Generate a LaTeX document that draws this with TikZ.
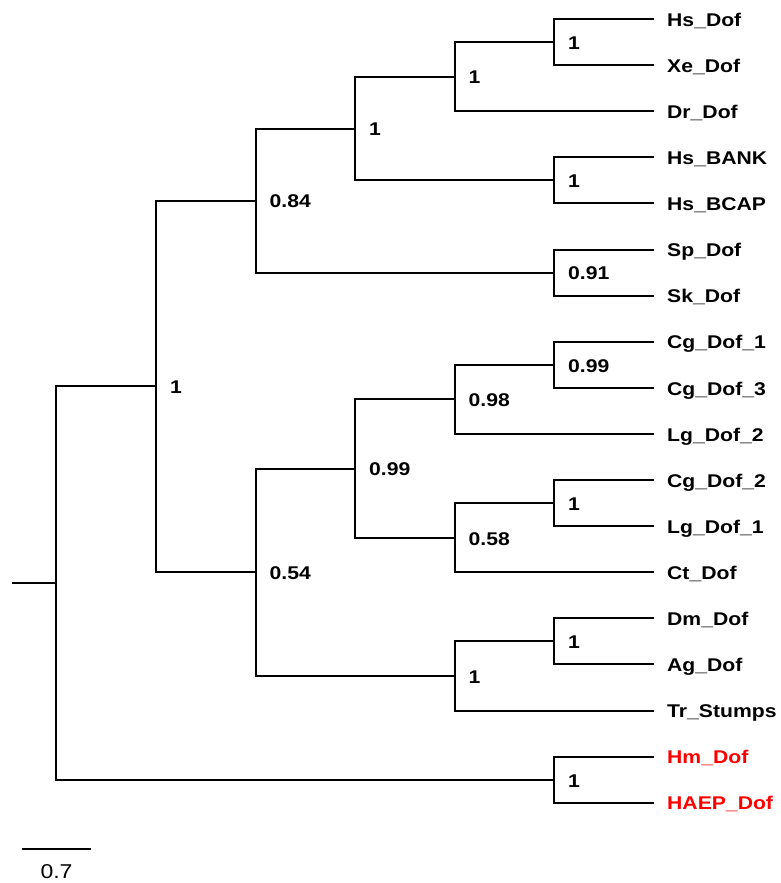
\documentclass[tikz,border=0pt]{standalone}
\usepackage{fontspec}
\newfontfamily\labfont{Liberation Sans}[FakeStretch=1.15]
\definecolor{outred}{RGB}{255,0,0}
\tikzset{
  br/.style={line width=2pt, line cap=rect},
  leaflab/.style={anchor=base west, inner sep=0pt, font=\labfont\bfseries\fontsize{18.4}{20}\selectfont},
  boot/.style={anchor=base west, inner sep=0pt, font=\labfont\bfseries\fontsize{18.4}{20}\selectfont},
  scalelab/.style={anchor=base, inner sep=0pt, font=\labfont\fontsize{20}{22}\selectfont}
}
\begin{document}
\begin{tikzpicture}[x=1pt,y=-1pt]
\useasboundingbox (0,0) rectangle (780,883);
% leaf tips
\foreach \nm/\yy in {L0/19,L1/65.1,L2/111.2,L3/157.3,L4/203.4,L5/249.5,L6/295.6,L7/341.7,L8/387.8,L9/433.9,L10/480,L11/526.1,L12/572.2,L13/618.3,L14/664.4,L15/710.5,L16/756.6,L17/802.7}
  \coordinate (\nm) at (653,\yy);
% internal nodes
\coordinate (n1) at (554,42.05);
\coordinate (n2) at (454.5,76.6);
\coordinate (n3) at (554,180.35);
\coordinate (n4) at (355,128.5);
\coordinate (n5) at (554,272.55);
\coordinate (n6) at (255.5,200.5);
\coordinate (n7) at (554,364.75);
\coordinate (n8) at (454.5,399.3);
\coordinate (n9) at (554,503.05);
\coordinate (n10) at (454.5,537.6);
\coordinate (n11) at (355,468.5);
\coordinate (n12) at (554,641.35);
\coordinate (n13) at (454.5,676);
\coordinate (n14) at (255.5,572.2);
\coordinate (n15) at (156,386.4);
\coordinate (n16) at (554,779.65);
\coordinate (root) at (56,583);
\coordinate (stub) at (13,583);
% branches
\draw[br] (stub) -- (root);
\draw[br] (root) |- (n15);
\draw[br] (root) |- (n16);
\draw[br] (n15) |- (n6);
\draw[br] (n15) |- (n14);
\draw[br] (n6) |- (n4);
\draw[br] (n6) |- (n5);
\draw[br] (n4) |- (n2);
\draw[br] (n4) |- (n3);
\draw[br] (n2) |- (n1);
\draw[br] (n2) |- (L2);
\draw[br] (n1) |- (L0);
\draw[br] (n1) |- (L1);
\draw[br] (n3) |- (L3);
\draw[br] (n3) |- (L4);
\draw[br] (n5) |- (L5);
\draw[br] (n5) |- (L6);
\draw[br] (n14) |- (n11);
\draw[br] (n14) |- (n13);
\draw[br] (n11) |- (n8);
\draw[br] (n11) |- (n10);
\draw[br] (n8) |- (n7);
\draw[br] (n8) |- (L9);
\draw[br] (n7) |- (L7);
\draw[br] (n7) |- (L8);
\draw[br] (n10) |- (n9);
\draw[br] (n10) |- (L12);
\draw[br] (n9) |- (L10);
\draw[br] (n9) |- (L11);
\draw[br] (n13) |- (n12);
\draw[br] (n13) |- (L15);
\draw[br] (n12) |- (L13);
\draw[br] (n12) |- (L14);
\draw[br] (n16) |- (L16);
\draw[br] (n16) |- (L17);
% leaf labels
\node[leaflab] (t0) at ([shift={(14,7.2)}]L0) {Hs\_Dof};
\node[leaflab] (t1) at ([shift={(14,7.2)}]L1) {Xe\_Dof};
\node[leaflab] (t2) at ([shift={(14,7.2)}]L2) {Dr\_Dof};
\node[leaflab] (t3) at ([shift={(14,7.2)}]L3) {Hs\_BANK};
\node[leaflab] (t4) at ([shift={(14,7.2)}]L4) {Hs\_BCAP};
\node[leaflab] (t5) at ([shift={(14,7.2)}]L5) {Sp\_Dof};
\node[leaflab] (t6) at ([shift={(14,7.2)}]L6) {Sk\_Dof};
\node[leaflab] (t7) at ([shift={(14,7.2)}]L7) {Cg\_Dof\_1};
\node[leaflab] (t8) at ([shift={(14,7.2)}]L8) {Cg\_Dof\_3};
\node[leaflab] (t9) at ([shift={(14,7.2)}]L9) {Lg\_Dof\_2};
\node[leaflab] (t10) at ([shift={(14,7.2)}]L10) {Cg\_Dof\_2};
\node[leaflab] (t11) at ([shift={(14,7.2)}]L11) {Lg\_Dof\_1};
\node[leaflab] (t12) at ([shift={(14,7.2)}]L12) {Ct\_Dof};
\node[leaflab] (t13) at ([shift={(14,7.2)}]L13) {Dm\_Dof};
\node[leaflab] (t14) at ([shift={(14,7.2)}]L14) {Ag\_Dof};
\node[leaflab] (t15) at ([shift={(14,7.2)}]L15) {Tr\_Stumps};
\node[leaflab,text=outred] (t16) at ([shift={(14,7.2)}]L16) {Hm\_Dof};
\node[leaflab,text=outred] (t17) at ([shift={(14,7.2)}]L17) {HAEP\_Dof};
% support values
\node[boot] (b1) at ([shift={(14,7.4)}]n1) {1};
\node[boot] (b2) at ([shift={(14,7.4)}]n2) {1};
\node[boot] (b3) at ([shift={(14,7.4)}]n3) {1};
\node[boot] (b4) at ([shift={(14,7.4)}]n4) {1};
\node[boot] (b5) at ([shift={(14,7.4)}]n5) {0.91};
\node[boot] (b6) at ([shift={(14,7.4)}]n6) {0.84};
\node[boot] (b7) at ([shift={(14,7.4)}]n7) {0.99};
\node[boot] (b8) at ([shift={(14,7.4)}]n8) {0.98};
\node[boot] (b9) at ([shift={(14,7.4)}]n9) {1};
\node[boot] (b10) at ([shift={(14,7.4)}]n10) {0.58};
\node[boot] (b11) at ([shift={(14,7.4)}]n11) {0.99};
\node[boot] (b12) at ([shift={(14,7.4)}]n12) {1};
\node[boot] (b13) at ([shift={(14,7.4)}]n13) {1};
\node[boot] (b14) at ([shift={(14,7.4)}]n14) {0.54};
\node[boot] (b15) at ([shift={(14,7.4)}]n15) {1};
\node[boot] (b16) at ([shift={(14,7.4)}]n16) {1};
% scale bar
\coordinate (sbl) at (22,849);
\coordinate (sbr) at (91,849);
\draw[line width=2pt] (sbl) -- (sbr);
\node[scalelab] (sbt) at (56.5,878) {0.7};
\end{tikzpicture}
\end{document}
